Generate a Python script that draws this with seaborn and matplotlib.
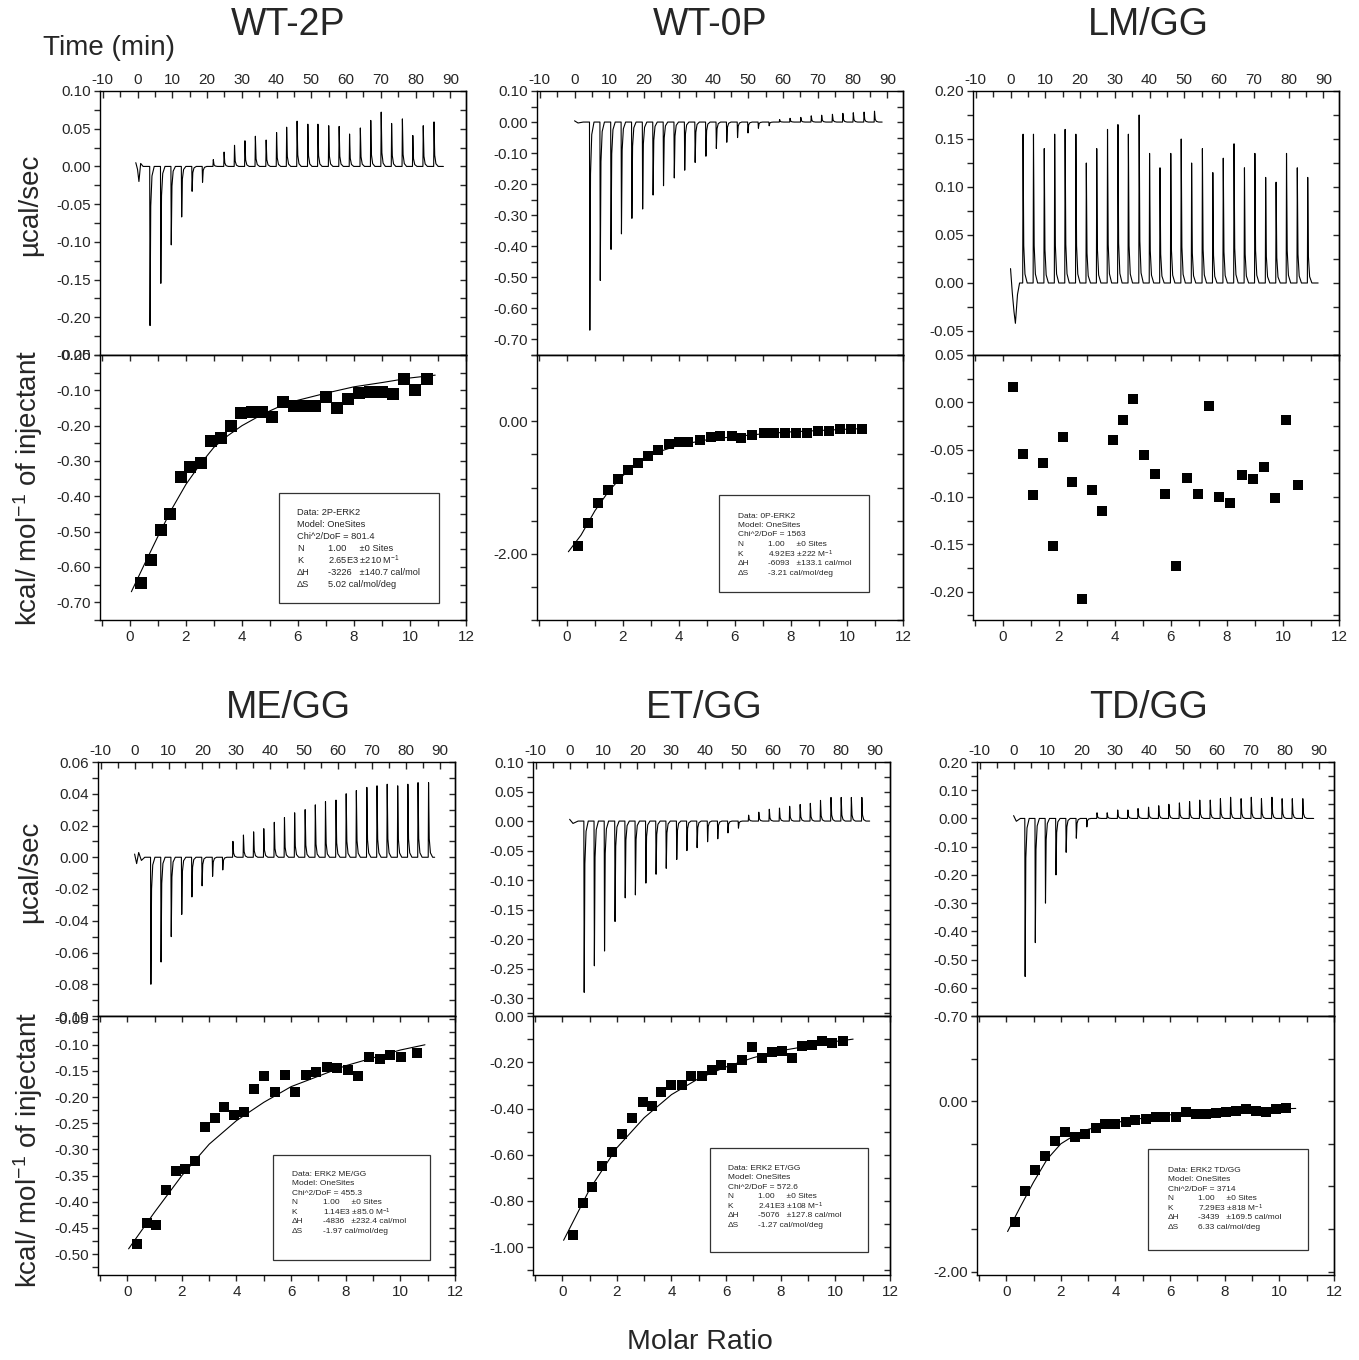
import numpy as np
import pandas as pd
import matplotlib
matplotlib.use("Agg")
import matplotlib.pyplot as plt
import seaborn as sns
from matplotlib.ticker import MultipleLocator, FuncFormatter, FixedLocator, FormatStrFormatter
from matplotlib.patches import Rectangle

# ------------------------------------------------------------------ data
titles = ["WT-2P", "WT-0P", "LM/GG", "ME/GG", "ET/GG", "TD/GG"]

# --- WT-2P
wt2p_pre_t = [-0.5, 0.0, 0.4, 0.9, 1.6]
wt2p_pre_p = [0.005, -0.004, -0.020, 0.004, 0.0]
wt2p_inj_time = [3.5, 6.6, 9.6, 12.6, 15.6, 18.6, 21.7, 24.8, 27.8, 30.8, 33.8, 36.9, 39.9, 42.8,
                 45.8, 48.9, 51.8, 54.9, 57.9, 60.9, 64.0, 67.0, 70.0, 73.0, 76.1, 79.1, 82.1, 85.2]
wt2p_inj_peak = [-0.211, -0.155, -0.104, -0.067, -0.033, -0.021, 0.009, 0.019, 0.028, 0.034, 0.040,
                 0.035, 0.045, 0.052, 0.060, 0.056, 0.056, 0.054, 0.053, 0.043, 0.051, 0.061, 0.072,
                 0.057, 0.063, 0.041, 0.054, 0.059]
wt2p_end_t = 88.0
wt2p_ratio = [0.40, 0.75, 1.10, 1.44, 1.81, 2.16, 2.52, 2.88, 3.24, 3.61, 3.97, 4.35, 4.73, 5.09,
              5.48, 5.85, 6.23, 6.61, 7.01, 7.40, 7.80, 8.18, 8.57, 8.99, 9.39, 9.79, 10.18, 10.59]
wt2p_heat = [-0.646, -0.580, -0.496, -0.451, -0.345, -0.316, -0.305, -0.243, -0.235, -0.200, -0.165,
             -0.160, -0.160, -0.176, -0.134, -0.144, -0.144, -0.144, -0.120, -0.149, -0.124, -0.107,
             -0.106, -0.106, -0.109, -0.068, -0.099, -0.067]
wt2p_fit_x = [0.05, 0.5, 1.0, 1.5, 2.0, 2.5, 3.0, 3.5, 4.0, 4.5, 5.0, 5.5, 6.0, 7.0, 8.0, 9.0, 10.0, 10.9]
wt2p_fit_y = [-0.670, -0.595, -0.513, -0.435, -0.366, -0.310, -0.261, -0.228, -0.200, -0.178, -0.158,
              -0.140, -0.128, -0.108, -0.090, -0.078, -0.065, -0.057]

# --- WT-0P
wt0p_pre_t = [0.0, 1.0, 2.5]
wt0p_pre_p = [0.004, -0.003, 0.0]
wt0p_inj_time = [4.3, 7.3, 10.4, 13.4, 16.4, 19.5, 22.5, 25.5, 28.6, 31.6, 34.6, 37.7, 40.7, 43.7,
                 46.8, 49.8, 52.8, 55.9, 58.9, 61.9, 65.0, 68.0, 71.0, 74.1, 77.1, 80.1, 83.2, 86.2]
wt0p_inj_peak = [-0.67, -0.51, -0.41, -0.36, -0.31, -0.28, -0.235, -0.205, -0.18, -0.155, -0.13,
                 -0.11, -0.085, -0.065, -0.05, -0.035, -0.02, -0.012, 0.008, 0.012, 0.015, 0.020,
                 0.022, 0.025, 0.028, 0.030, 0.032, 0.035]
wt0p_end_t = 88.5
wt0p_ratio = [0.39, 0.75, 1.10, 1.46, 1.82, 2.17, 2.53, 2.88, 3.24, 3.63, 3.99, 4.34, 4.74, 5.13,
              5.48, 5.88, 6.23, 6.62, 7.02, 7.41, 7.80, 8.19, 8.58, 8.97, 9.37, 9.76, 10.15, 10.54]
wt0p_heat = [-1.89, -1.54, -1.24, -1.04, -0.87, -0.73, -0.63, -0.52, -0.43, -0.35, -0.31, -0.31,
             -0.29, -0.24, -0.23, -0.23, -0.26, -0.20, -0.18, -0.18, -0.18, -0.17, -0.17, -0.14,
             -0.14, -0.12, -0.12, -0.12]
wt0p_fit_x = [0.05, 0.5, 1.0, 1.5, 2.0, 2.5, 3.0, 4.0, 5.0, 6.0, 7.0, 8.0, 9.0, 10.0, 10.65]
wt0p_fit_y = [-1.97, -1.72, -1.35, -1.05, -0.82, -0.64, -0.50, -0.36, -0.28, -0.23, -0.19, -0.16,
              -0.14, -0.12, -0.11]

# --- LM/GG
lmgg_pre_t = [0.0, 0.5, 1.0, 1.4, 2.0, 2.6]
lmgg_pre_p = [0.015, -0.010, -0.030, -0.042, -0.012, 0.0]
lmgg_inj_time = [3.5, 6.5, 9.6, 12.6, 15.6, 18.7, 21.7, 24.7, 27.8, 30.8, 33.8, 36.9, 39.9, 42.9,
                 46.0, 49.0, 52.0, 55.1, 58.1, 61.1, 64.2, 67.2, 70.2, 73.3, 76.3, 79.3, 82.4, 85.4]
lmgg_inj_peak = [0.155, 0.155, 0.140, 0.155, 0.160, 0.155, 0.125, 0.140, 0.160, 0.165, 0.155, 0.175,
                 0.135, 0.120, 0.135, 0.150, 0.125, 0.140, 0.115, 0.130, 0.145, 0.120, 0.135, 0.110,
                 0.105, 0.135, 0.120, 0.110]
lmgg_end_t = 88.5
lmgg_ratio = [0.35, 0.71, 1.06, 1.42, 1.77, 2.13, 2.48, 2.84, 3.19, 3.55, 3.94, 4.29, 4.65, 5.04,
              5.43, 5.78, 6.17, 6.56, 6.95, 7.34, 7.73, 8.12, 8.55, 8.94, 9.33, 9.72, 10.11, 10.53]
lmgg_heat = [0.016, -0.055, -0.098, -0.064, -0.152, -0.037, -0.084, -0.208, -0.093, -0.115, -0.040,
             -0.019, 0.004, -0.056, -0.076, -0.097, -0.173, -0.080, -0.097, -0.004, -0.100, -0.106,
             -0.077, -0.081, -0.068, -0.101, -0.019, -0.087]

# --- ME/GG
megg_pre_t = [0.0, 0.6, 1.2, 2.0, 3.0]
megg_pre_p = [0.002, -0.004, 0.003, -0.002, 0.0]
megg_inj_time = [4.7, 7.7, 10.7, 13.8, 16.8, 19.8, 22.9, 25.9, 28.9, 32.0, 35.0, 38.0, 41.1, 44.1,
                 47.1, 50.2, 53.2, 56.2, 59.3, 62.3, 65.3, 68.4, 71.4, 74.4, 77.5, 80.5, 83.5, 86.6]
megg_inj_peak = [-0.080, -0.066, -0.050, -0.036, -0.025, -0.018, -0.012, -0.008, 0.010, 0.014,
                 0.016, 0.018, 0.022, 0.025, 0.028, 0.030, 0.033, 0.035, 0.036, 0.040, 0.042,
                 0.044, 0.045, 0.046, 0.045, 0.046, 0.047, 0.047]
megg_end_t = 88.5
megg_ratio = [0.37, 0.73, 1.07, 1.42, 1.78, 2.13, 2.48, 2.85, 3.20, 3.55, 3.90, 4.27, 4.63, 5.00,
              5.40, 5.78, 6.15, 6.53, 6.90, 7.30, 7.68, 8.07, 8.45, 8.85, 9.25, 9.63, 10.03, 10.60]
megg_heat = [-0.480, -0.440, -0.445, -0.378, -0.342, -0.338, -0.322, -0.258, -0.240, -0.218, -0.235,
             -0.228, -0.185, -0.160, -0.190, -0.157, -0.190, -0.157, -0.152, -0.143, -0.145, -0.148,
             -0.160, -0.123, -0.128, -0.120, -0.123, -0.115]
megg_fit_x = [0.05, 1.0, 2.0, 3.0, 4.0, 5.0, 6.0, 7.0, 8.0, 9.0, 10.0, 10.9]
megg_fit_y = [-0.490, -0.420, -0.350, -0.290, -0.245, -0.210, -0.180, -0.160, -0.140, -0.125,
              -0.110, -0.100]

# --- ET/GG
etgg_pre_t = [0.0, 1.0, 2.5]
etgg_pre_p = [0.003, -0.004, 0.0]
etgg_inj_time = [4.2, 7.2, 10.2, 13.3, 16.3, 19.3, 22.4, 25.4, 28.4, 31.5, 34.5, 37.5, 40.6, 43.6,
                 46.6, 49.7, 52.7, 55.7, 58.8, 61.8, 64.8, 67.9, 70.9, 73.9, 77.0, 80.0, 83.0, 86.1]
etgg_inj_peak = [-0.290, -0.245, -0.220, -0.170, -0.130, -0.125, -0.105, -0.090, -0.080, -0.065,
                 -0.050, -0.045, -0.035, -0.030, -0.020, -0.012, 0.010, 0.015, 0.020, 0.022, 0.025,
                 0.028, 0.030, 0.035, 0.040, 0.040, 0.040, 0.040]
etgg_end_t = 88.5
etgg_ratio = [0.40, 0.77, 1.10, 1.47, 1.83, 2.20, 2.57, 2.94, 3.27, 3.63, 4.00, 4.37, 4.73, 5.10,
              5.47, 5.83, 6.20, 6.57, 6.94, 7.30, 7.67, 8.04, 8.40, 8.77, 9.14, 9.50, 9.87, 10.27]
etgg_heat = [-0.948, -0.81, -0.74, -0.65, -0.59, -0.51, -0.44, -0.37, -0.39, -0.33, -0.30, -0.30,
             -0.26, -0.26, -0.235, -0.21, -0.225, -0.19, -0.135, -0.18, -0.155, -0.15, -0.18, -0.13,
             -0.125, -0.11, -0.115, -0.11]
etgg_fit_x = [0.05, 1.0, 2.0, 3.0, 4.0, 5.0, 6.0, 7.0, 8.0, 9.0, 10.0, 10.65]
etgg_fit_y = [-0.97, -0.75, -0.57, -0.44, -0.34, -0.27, -0.22, -0.18, -0.15, -0.13, -0.11, -0.10]

# --- TD/GG
tdgg_pre_t = [0.0, 0.8, 2.0]
tdgg_pre_p = [0.01, -0.01, 0.0]
tdgg_inj_time = [3.3, 6.3, 9.3, 12.4, 15.4, 18.4, 21.5, 24.5, 27.5, 30.6, 33.6, 36.6, 39.7, 42.7,
                 45.7, 48.8, 51.8, 54.8, 57.9, 60.9, 63.9, 67.0, 70.0, 73.0, 76.1, 79.1, 82.1, 85.2]
tdgg_inj_peak = [-0.56, -0.44, -0.30, -0.20, -0.12, -0.07, -0.03, 0.02, 0.02, 0.03, 0.03, 0.035,
                 0.04, 0.045, 0.05, 0.055, 0.06, 0.065, 0.065, 0.07, 0.075, 0.07, 0.075, 0.07,
                 0.075, 0.07, 0.07, 0.07]
tdgg_end_t = 88.5
tdgg_ratio = [0.33, 0.70, 1.06, 1.43, 1.80, 2.17, 2.53, 2.90, 3.27, 3.63, 4.00, 4.37, 4.73, 5.10,
              5.47, 5.83, 6.20, 6.57, 6.94, 7.30, 7.67, 8.04, 8.40, 8.77, 9.14, 9.50, 9.87, 10.24]
tdgg_heat = [-1.42, -1.05, -0.81, -0.64, -0.47, -0.36, -0.42, -0.39, -0.32, -0.27, -0.27, -0.25,
             -0.22, -0.21, -0.19, -0.18, -0.18, -0.13, -0.15, -0.15, -0.14, -0.13, -0.12, -0.09,
             -0.11, -0.13, -0.09, -0.08]
tdgg_fit_x = [0.05, 0.5, 1.0, 1.5, 2.0, 2.5, 3.0, 4.0, 5.0, 6.0, 7.0, 8.0, 9.0, 10.0, 10.6]
tdgg_fit_y = [-1.53, -1.25, -0.95, -0.68, -0.50, -0.40, -0.33, -0.25, -0.20, -0.16, -0.13, -0.11,
              -0.10, -0.09, -0.085]

# --- fit-result boxes
wt2p_box = ["Data: 2P-ERK2", "Model: OneSites", "Chi^2/DoF = 801.4",
            ("N", "1.00     \u00b10 Sites"), ("K", "2.65E3 \u00b1210 M$^{-1}$"),
            ("\u0394H", "-3226   \u00b1140.7 cal/mol"), ("\u0394S", "5.02 cal/mol/deg")]
wt0p_box = ["Data: 0P-ERK2", "Model: OneSites", "Chi^2/DoF = 1563",
            ("N", "1.00     \u00b10 Sites"), ("K", "4.92E3 \u00b1222 M$^{-1}$"),
            ("\u0394H", "-6093   \u00b1133.1 cal/mol"), ("\u0394S", "-3.21 cal/mol/deg")]
megg_box = ["Data: ERK2 ME/GG", "Model: OneSites", "Chi^2/DoF = 455.3",
            ("N", "1.00     \u00b10 Sites"), ("K", "1.14E3 \u00b185.0 M$^{-1}$"),
            ("\u0394H", "-4836   \u00b1232.4 cal/mol"), ("\u0394S", "-1.97 cal/mol/deg")]
etgg_box = ["Data: ERK2 ET/GG", "Model: OneSites", "Chi^2/DoF = 572.6",
            ("N", "1.00     \u00b10 Sites"), ("K", "2.41E3 \u00b1108 M$^{-1}$"),
            ("\u0394H", "-5076   \u00b1127.8 cal/mol"), ("\u0394S", "-1.27 cal/mol/deg")]
tdgg_box = ["Data: ERK2 TD/GG", "Model: OneSites", "Chi^2/DoF = 3714",
            ("N", "1.00     \u00b10 Sites"), ("K", "7.29E3 \u00b1818 M$^{-1}$"),
            ("\u0394H", "-3439   \u00b1169.5 cal/mol"), ("\u0394S", "6.33 cal/mol/deg")]

# ------------------------------------------------------------------ style
sns.set_theme(style="ticks")
plt.rcParams["font.family"] = ["Liberation Sans", "DejaVu Sans"]
plt.rcParams["axes.unicode_minus"] = False
plt.rcParams["mathtext.default"] = "regular"
plt.rcParams["axes.linewidth"] = 1.0

W, H = 1359, 1360
fig = plt.figure(figsize=(W / 100, H / 100), dpi=100)


def fx(px):
    return px / W


def fy(py):
    return 1 - py / H


def add_ax(l, t, r, b):
    return fig.add_axes([fx(l), fy(b), fx(r) - fx(l), fy(t) - fy(b)])


def two_dec(v, pos=None):
    v = round(v, 6)
    if v == 0:
        v = 0.0
    return "%.2f" % v


SPIKE_DT = [0.0, 0.10, 0.30, 0.65, 1.3]
SPIKE_FRAC = [0.0, 1.0, 0.25, 0.06, 0.0]


def trace_frame(pre_t, pre_p, times, peaks, t1):
    xs, ys = list(pre_t), list(pre_p)
    for t, p in zip(times, peaks):
        for dt, f in zip(SPIKE_DT, SPIKE_FRAC):
            xs.append(t + dt)
            ys.append(p * f)
    xs.append(t1)
    ys.append(0.0)
    return pd.DataFrame({"time": xs, "power": ys})


def style_axis(ax, ylim, ymaj, ymin, time_axis):
    ax.set_ylim(*ylim)
    ax.yaxis.set_major_locator(MultipleLocator(ymaj))
    ax.yaxis.set_minor_locator(MultipleLocator(ymin))
    ax.yaxis.set_major_formatter(FuncFormatter(two_dec))
    ax.tick_params(axis="y", which="both", direction="out", left=True, right=False,
                   labelsize=11, pad=2, length=4.5, width=1)
    sec = ax.secondary_yaxis("right")
    sec.yaxis.set_major_locator(MultipleLocator(ymin))
    sec.tick_params(axis="y", which="both", direction="in", length=4.5, width=1,
                    labelright=False)
    if time_axis:
        ax.set_xlim(-10.8, 94.5)
        ax.xaxis.set_major_locator(FixedLocator(list(range(-10, 91, 10))))
        ax.xaxis.set_minor_locator(MultipleLocator(5))
        ax.xaxis.set_major_formatter(FormatStrFormatter("%d"))
        ax.tick_params(axis="x", which="both", direction="in", top=True, bottom=False,
                       labeltop=True, labelbottom=False, labelsize=11, pad=3)
        ax.tick_params(axis="x", which="major", length=5, width=1)
        ax.tick_params(axis="x", which="minor", length=4, width=1)
    else:
        ax.set_xlim(-1.07, 12)
        ax.xaxis.set_major_locator(MultipleLocator(2))
        ax.xaxis.set_minor_locator(MultipleLocator(1))
        ax.xaxis.set_major_formatter(FormatStrFormatter("%d"))
        ax.tick_params(axis="x", which="both", direction="out", bottom=True, top=False,
                       labelsize=11, pad=3, length=4.5, width=1)
        sec = ax.secondary_xaxis("top")
        sec.xaxis.set_major_locator(MultipleLocator(1))
        sec.tick_params(axis="x", which="both", direction="in", length=4.5, width=1,
                        labeltop=False)
    ax.set_xlabel("")
    ax.set_ylabel("")
    for s in ax.spines.values():
        s.set_visible(True)
        s.set_linewidth(1.0)
        s.set_color("black")


def draw_box(lines, box, tx, vx, y0, dy, fs):
    l, t, r, b = box
    fig.patches.append(Rectangle((fx(l), fy(b)), fx(r) - fx(l), fy(t) - fy(b),
                                 transform=fig.transFigure, fill=False, lw=0.9,
                                 edgecolor="#333333"))
    for i, ln in enumerate(lines):
        yy = fy(y0 + i * dy)
        if isinstance(ln, str):
            fig.text(fx(tx), yy, ln, fontsize=fs, va="center", ha="left")
        else:
            fig.text(fx(tx), yy, ln[0], fontsize=fs, va="center", ha="left")
            fig.text(fx(vx), yy, ln[1], fontsize=fs, va="center", ha="left")


panels = [
    dict(top=(100, 91, 466, 355), bot=(100, 355, 466, 620),
         pre=(wt2p_pre_t, wt2p_pre_p), t=wt2p_inj_time, p=wt2p_inj_peak, end=wt2p_end_t,
         tylim=(-0.25, 0.10), tmaj=0.05, tmin=0.025,
         r=wt2p_ratio, h=wt2p_heat, fxv=wt2p_fit_x, fyv=wt2p_fit_y,
         bylim=(-0.75, 0.0), bmaj=0.1, bmin=0.05, ms=8.0),
    dict(top=(537, 91, 903, 355), bot=(537, 355, 903, 620),
         pre=(wt0p_pre_t, wt0p_pre_p), t=wt0p_inj_time, p=wt0p_inj_peak, end=wt0p_end_t,
         tylim=(-0.75, 0.10), tmaj=0.1, tmin=0.05,
         r=wt0p_ratio, h=wt0p_heat, fxv=wt0p_fit_x, fyv=wt0p_fit_y,
         bylim=(-3.0, 1.0), bmaj=2.0, bmin=0.5, ms=7.0),
    dict(top=(973, 91, 1339, 355), bot=(973, 355, 1339, 620),
         pre=(lmgg_pre_t, lmgg_pre_p), t=lmgg_inj_time, p=lmgg_inj_peak, end=lmgg_end_t,
         tylim=(-0.075, 0.20), tmaj=0.05, tmin=0.025,
         r=lmgg_ratio, h=lmgg_heat, fxv=None, fyv=None,
         bylim=(-0.23, 0.05), bmaj=0.05, bmin=0.025, ms=7.5),
    dict(top=(98, 762, 455, 1016), bot=(98, 1016, 455, 1275),
         pre=(megg_pre_t, megg_pre_p), t=megg_inj_time, p=megg_inj_peak, end=megg_end_t,
         tylim=(-0.10, 0.06), tmaj=0.02, tmin=0.01,
         r=megg_ratio, h=megg_heat, fxv=megg_fit_x, fyv=megg_fit_y,
         bylim=(-0.54, -0.045), bmaj=0.05, bmin=0.025, ms=7.0),
    dict(top=(533, 762, 890, 1016), bot=(533, 1016, 890, 1275),
         pre=(etgg_pre_t, etgg_pre_p), t=etgg_inj_time, p=etgg_inj_peak, end=etgg_end_t,
         tylim=(-0.33, 0.10), tmaj=0.05, tmin=0.025,
         r=etgg_ratio, h=etgg_heat, fxv=etgg_fit_x, fyv=etgg_fit_y,
         bylim=(-1.12, 0.0), bmaj=0.2, bmin=0.1, ms=7.0),
    dict(top=(977, 762, 1334, 1016), bot=(977, 1016, 1334, 1275),
         pre=(tdgg_pre_t, tdgg_pre_p), t=tdgg_inj_time, p=tdgg_inj_peak, end=tdgg_end_t,
         tylim=(-0.70, 0.20), tmaj=0.1, tmin=0.05,
         r=tdgg_ratio, h=tdgg_heat, fxv=tdgg_fit_x, fyv=tdgg_fit_y,
         bylim=(-2.04, 1.0), bmaj=2.0, bmin=0.5, ms=7.0),
]

for pn in panels:
    axt = add_ax(*pn["top"])
    df = trace_frame(pn["pre"][0], pn["pre"][1], pn["t"], pn["p"], pn["end"])
    sns.lineplot(data=df, x="time", y="power", ax=axt, color="black", lw=0.8,
                 sort=False, estimator=None)
    style_axis(axt, pn["tylim"], pn["tmaj"], pn["tmin"], True)

    axb = add_ax(*pn["bot"])
    if pn["fxv"] is not None:
        fdf = pd.DataFrame({"ratio": pn["fxv"], "heat": pn["fyv"]})
        sns.lineplot(data=fdf, x="ratio", y="heat", ax=axb, color="black", lw=0.8,
                     sort=False, estimator=None)
    pdf = pd.DataFrame({"ratio": pn["r"], "heat": pn["h"]})
    sns.scatterplot(data=pdf, x="ratio", y="heat", ax=axb, marker="s", color="black",
                    s=pn["ms"] ** 2, edgecolor="black", linewidth=0, zorder=3)
    style_axis(axb, pn["bylim"], pn["bmaj"], pn["bmin"], False)

# boxes
draw_box(wt2p_box, (279, 493, 439, 603), 297, 328, 512.7, 11.9, 6.7)
draw_box(wt0p_box, (719, 495, 869, 592), 737.7, 768.3, 516, 9.5, 6.0)
draw_box(megg_box, (273, 1155, 430, 1260), 291.7, 323.3, 1174, 9.55, 6.0)
draw_box(etgg_box, (710, 1148, 868, 1252), 727.7, 757.7, 1168.3, 9.5, 6.0)
draw_box(tdgg_box, (1148, 1149, 1308, 1250), 1167.7, 1198.3, 1170.3, 9.5, 6.0)

# titles and labels
title_pos = [(288, 25), (710, 25), (1148, 25), (288, 708), (704, 708), (1148, 708)]
for name, (x, y) in zip(titles, title_pos):
    fig.text(fx(x), fy(y), name, fontsize=27, ha="center", va="center")

fig.text(fx(43), fy(48), "Time (min)", fontsize=20, ha="left", va="center")
fig.text(fx(30), fy(205), "\u00b5cal/sec", fontsize=20, ha="center", va="center", rotation=90)
fig.text(fx(30), fy(872), "\u00b5cal/sec", fontsize=20, ha="center", va="center", rotation=90)
fig.text(fx(28), fy(488), "kcal/ mol$^{-1}$ of injectant", fontsize=20, ha="center",
         va="center", rotation=90)
fig.text(fx(28), fy(1150), "kcal/ mol$^{-1}$ of injectant", fontsize=20, ha="center",
         va="center", rotation=90)
fig.text(fx(700), fy(1342), "Molar Ratio", fontsize=20.5, ha="center", va="center")

fig.savefig("out.png", dpi=100)
